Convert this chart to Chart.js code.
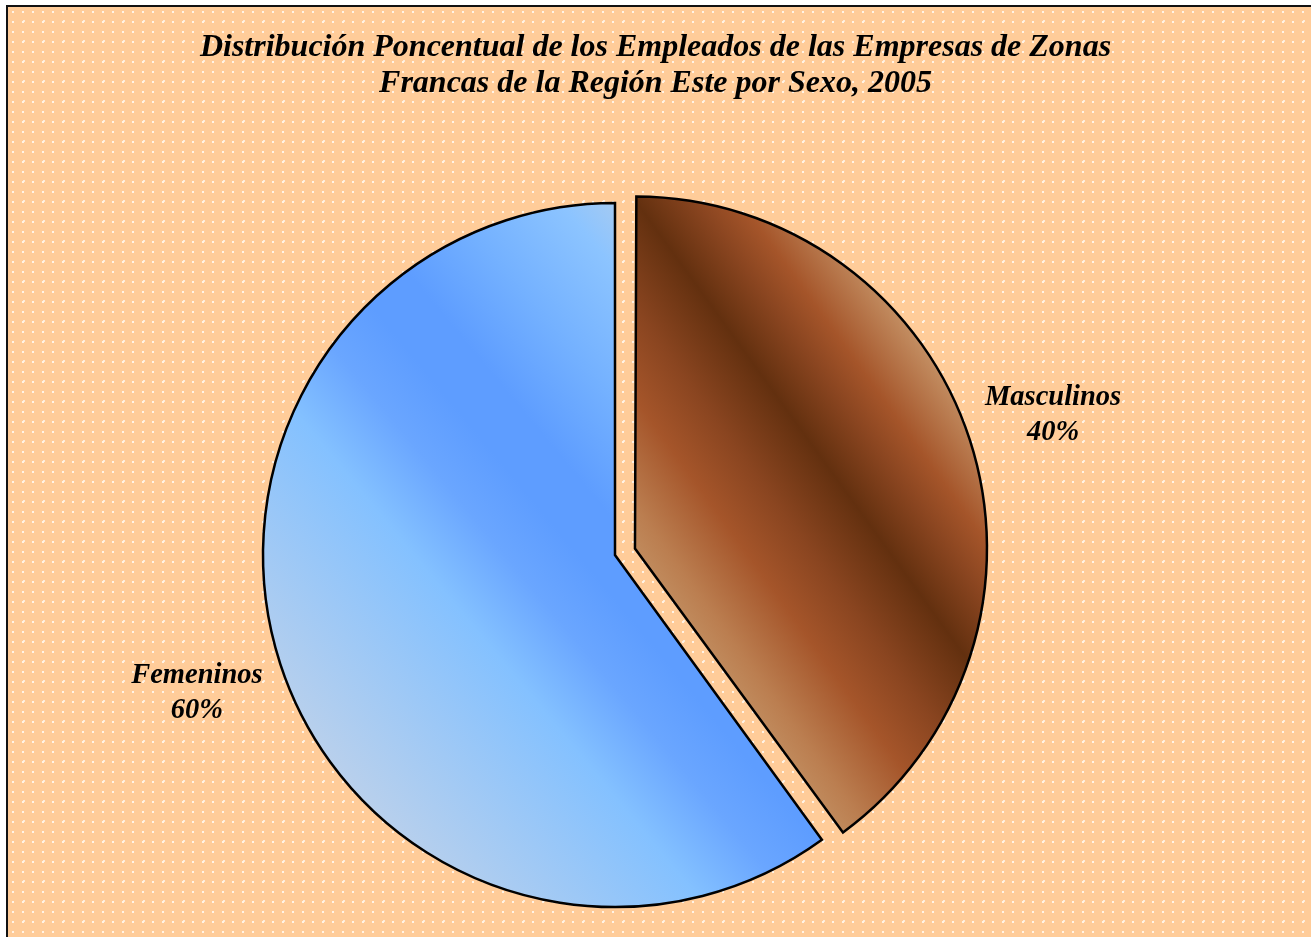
<!DOCTYPE html>
<html lang="es">
<head>
<meta charset="utf-8">
<title>Distribución Poncentual de los Empleados por Sexo, 2005</title>
<script src="https://cdn.jsdelivr.net/npm/chart.js@4.4.0/dist/chart.umd.min.js"></script>
<style>
  html, body { margin: 0; padding: 0; background: #fff; width: 1311px; height: 937px; overflow: hidden; }
  #marco {
    position: absolute; left: 6px; top: 5px; right: 0; bottom: 0;
    border-left: 2px solid #111; border-top: 2px solid #111;
    background-color: #FFCC99;
    background-image:
      radial-gradient(circle, #FFF3E6 1px, transparent 1.4px),
      radial-gradient(circle, #FFEBD7 0.9px, transparent 1.3px);
    background-size: 10px 10px, 20px 20px;
    background-position: 0 0, 6px 4px;
  }
  #grafico { position: absolute; left: 0; top: 0; }
</style>
</head>
<body>
<div id="marco"></div>
<canvas id="grafico" width="1311" height="937"></canvas>
<script>
// Datos del gráfico
const categorias = ['Masculinos', 'Femeninos'];
const porcentajes = [40, 60];
const tituloLineas = [
  'Distribución Poncentual de los Empleados de las Empresas de Zonas',
  'Francas de la Región Este por Sexo, 2005'
];

const FUENTE = "'Liberation Serif', 'Times New Roman', serif";
const RADIO = 352;
const DESPLAZ = [84, 0]; // Chart.js v4 traslada offset/4

// colores de degradado por porción
const paletas = [
  { dir: [0.81, -0.586], desde: 0, hasta: 1,
    paradas: [[0, '#C08A5C'], [0.07, '#BB7E50'], [0.25, '#A5552A'], [0.4, '#8A4520'], [0.58, '#63300F'],
              [0.72, '#8A4520'], [0.82, '#A5552A'], [1, '#C38E62']] },
  { dir: [0.769, -0.639], desde: -1, hasta: 1,
    paradas: [[0, '#B9D0EC'], [0.28, '#84C1FF'], [0.38, '#6AA6FF'], [0.46, '#5E9DFF'], [0.53, '#5E9DFF'],
              [0.64, '#74B1FF'], [0.76, '#8CC4FF'], [0.83, '#A8CBF0'], [1, '#B9D0EC']] }
];

const degradados = {
  id: 'degradados',
  beforeDatasetsDraw(chart) {
    const meta = chart.getDatasetMeta(0);
    const ctx = chart.ctx;
    meta.data.forEach((arc, i) => {
      const p = paletas[i];
      const r = meta.controller.outerRadius;
      // compensar el aumento de radio que aplica Chart.js al desplazar
      const off = (arc.options.offset || 0) / 4;
      const fix = 1 - Math.sin(Math.min(Math.PI, arc.circumference));
      arc.outerRadius = r - off * fix;
      const g = ctx.createLinearGradient(
        arc.x + p.dir[0] * r * p.desde, arc.y + p.dir[1] * r * p.desde,
        arc.x + p.dir[0] * r * p.hasta, arc.y + p.dir[1] * r * p.hasta);
      p.paradas.forEach(([f, c]) => g.addColorStop(f, c));
      arc.options.backgroundColor = g;
    });
  }
};

const titulo = {
  id: 'titulo',
  afterDraw(chart) {
    const ctx = chart.ctx;
    ctx.save();
    ctx.fillStyle = '#000';
    ctx.font = 'italic bold 32px ' + FUENTE;
    ctx.textAlign = 'center';
    ctx.textBaseline = 'alphabetic';
    tituloLineas.forEach((t, i) => ctx.fillText(t, chart.width / 2, 56 + i * 36));
    ctx.restore();
  }
};

const etiquetas = {
  id: 'etiquetas',
  afterDatasetsDraw(chart) {
    const meta = chart.getDatasetMeta(0);
    const ctx = chart.ctx;
    ctx.save();
    ctx.fillStyle = '#000';
    ctx.font = 'italic bold 28.5px ' + FUENTE;
    ctx.textAlign = 'center';
    ctx.textBaseline = 'alphabetic';
    meta.data.forEach((arc, i) => {
      const medio = (arc.startAngle + arc.endAngle) / 2;
      const dist = (arc.options.offset || 0) / 4 + meta.controller.outerRadius * 1.249;
      const x = arc.x + Math.cos(medio) * dist;
      const y = arc.y + Math.sin(medio) * dist;
      ctx.fillText(categorias[i], x, y - 7.5);
      ctx.fillText(porcentajes[i] + '%', x, y + 27);
    });
    ctx.restore();
  }
};

new Chart(document.getElementById('grafico'), {
  type: 'pie',
  data: {
    labels: categorias,
    datasets: [{
      data: porcentajes,
      backgroundColor: ['#A5552A', '#86C3FF'],
      borderColor: '#000',
      borderWidth: 2.5,
      borderJoinStyle: 'miter',
      offset: DESPLAZ,
      radius: RADIO
    }]
  },
  options: {
    responsive: false,
    animation: false,
    events: [],
    layout: { padding: { top: 173, left: 0, right: 81, bottom: 0 } },
    plugins: {
      legend: { display: false },
      tooltip: { enabled: false },
      title: { display: false }
    }
  },
  plugins: [degradados, etiquetas, titulo]
});
</script>
</body>
</html>
